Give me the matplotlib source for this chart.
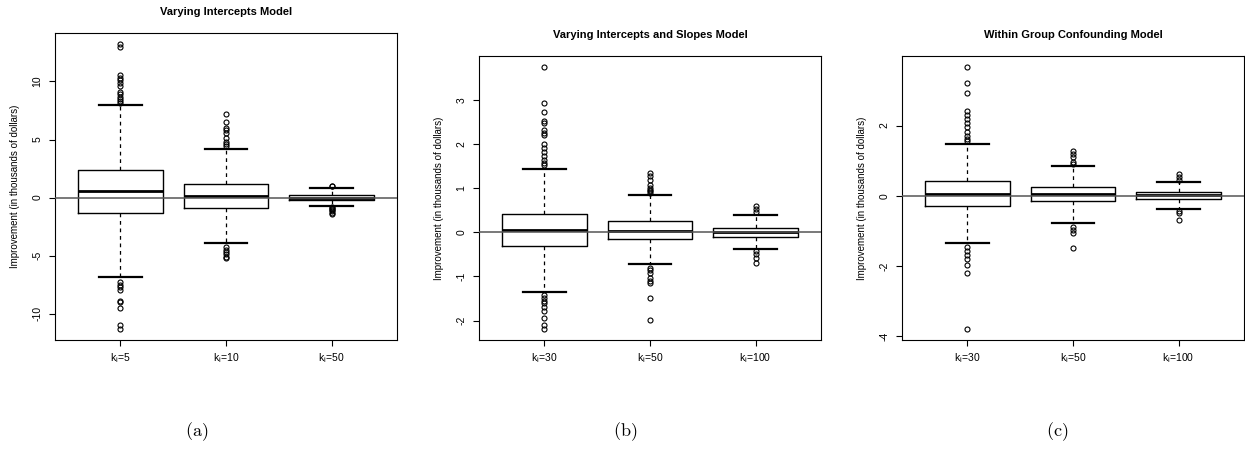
import matplotlib.pyplot as plt

plt.rcParams['font.family'] = ['Liberation Sans', 'DejaVu Sans']
plt.rcParams['mathtext.fontset'] = 'custom'
plt.rcParams['mathtext.rm'] = 'Liberation Sans'
plt.rcParams['mathtext.it'] = 'Liberation Sans:italic'

titles = ["Varying Intercepts Model",
          "Varying Intercepts and Slopes Model",
          "Within Group Confounding Model"]
captions = ["(a)", "(b)", "(c)"]
ylabel = "Improvement (in thousands of dollars)"

# (a) varying intercepts
a_labels = ["5", "10", "50"]
a_med = [0.54, 0.14, 0.0]
a_q1 = [-1.33, -0.86, -0.2]
a_q3 = [2.41, 1.2, 0.24]
a_whislo = [-6.84, -3.88, -0.72]
a_whishi = [8.0, 4.16, 0.84]
a_fliers = [
    [13.2, 13.0, 10.6, 10.3, 10.1, 9.9, 9.6, 9.1, 8.9, 8.7, 8.5, 8.3, 8.15,
     -7.3, -7.5, -7.7, -8.0, -8.9, -9.0, -9.5, -11.0, -11.3],
    [7.24, 6.5, 6.0, 5.8, 5.6, 5.1, 4.8, 4.6, 4.4,
     -4.3, -4.5, -4.7, -4.9, -5.1, -5.2],
    [0.95, 1.0, -0.8, -0.9, -1.0, -1.1, -1.2, -1.3, -1.45],
]
a_ticks = [-10, -5, 0, 5, 10]

# (b) varying intercepts and slopes
b_labels = ["30", "50", "100"]
b_med = [0.05, 0.03, 0.01]
b_q1 = [-0.30, -0.15, -0.10]
b_q3 = [0.41, 0.26, 0.10]
b_whislo = [-1.36, -0.72, -0.38]
b_whishi = [1.42, 0.84, 0.39]
b_fliers = [
    [3.75, 2.92, 2.71, 2.51, 2.48, 2.32, 2.25, 2.21, 2.0, 1.91, 1.81, 1.72, 1.63, 1.57, 1.53,
     -1.41, -1.48, -1.55, -1.6, -1.69, -1.79, -1.94, -2.09, -2.2],
    [1.34, 1.27, 1.19, 1.08, 1.0, 0.96, 0.93, 0.89,
     -0.81, -0.86, -0.92, -1.03, -1.1, -1.15, -1.48, -1.99],
    [0.59, 0.53, 0.45, -0.43, -0.5, -0.58, -0.69],
]
b_ticks = [-2, -1, 0, 1, 2, 3]

# (c) within group confounding
c_labels = ["30", "50", "100"]
c_med = [0.04, 0.04, 0.02]
c_q1 = [-0.30, -0.16, -0.10]
c_q3 = [0.41, 0.26, 0.10]
c_whislo = [-1.36, -0.78, -0.38]
c_whishi = [1.48, 0.86, 0.40]
c_fliers = [
    [3.68, 3.2, 2.92, 2.42, 2.3, 2.18, 2.06, 1.95, 1.82, 1.71, 1.61, 1.55,
     -1.45, -1.57, -1.69, -1.81, -1.98, -2.19, -3.81],
    [1.28, 1.19, 1.09, 0.97, 0.89, -0.88, -0.98, -1.07, -1.48],
    [0.62, 0.54, 0.45, -0.43, -0.5, -0.69],
]
c_ticks = [-4, -2, 0, 2]

panels = [
    (a_labels, a_med, a_q1, a_q3, a_whislo, a_whishi, a_fliers, a_ticks),
    (b_labels, b_med, b_q1, b_q3, b_whislo, b_whishi, b_fliers, b_ticks),
    (c_labels, c_med, c_q1, c_q3, c_whislo, c_whishi, c_fliers, c_ticks),
]

fig = plt.figure(figsize=(12.45, 4.5), dpi=100)
rects = [
    [55 / 1245, 1 - 340 / 450, 342 / 1245, 307 / 450],
    [479 / 1245, 1 - 340 / 450, 342 / 1245, 284 / 450],
    [902 / 1245, 1 - 340 / 450, 342 / 1245, 284 / 450],
]
cap_x = [197 / 1245, 625 / 1245, 1057 / 1245]

for i, (labels, med, q1, q3, lo, hi, fl, ticks) in enumerate(panels):
    ax = fig.add_axes(rects[i])
    stats = []
    for j in range(len(labels)):
        stats.append(dict(med=med[j], q1=q1[j], q3=q3[j], whislo=lo[j],
                          whishi=hi[j], fliers=fl[j]))
    ax.bxp(stats, positions=[1, 2, 3], widths=0.8, showfliers=True,
           boxprops=dict(color='black', lw=1.0),
           medianprops=dict(color='black', lw=2.0),
           whiskerprops=dict(color='black', lw=0.9, linestyle=(0, (3, 3))),
           capprops=dict(color='black', lw=1.6),
           capwidths=0.4,
           flierprops=dict(marker='o', markerfacecolor='none',
                           markeredgecolor='black', markersize=3.6,
                           markeredgewidth=0.8))
    ax.axhline(0, color='#555555', lw=1.1, zorder=3)

    allv = lo + hi + [v for f in fl for v in f]
    vmin, vmax = min(allv), max(allv)
    pad = 0.04 * (vmax - vmin)
    ax.set_ylim(vmin - pad, vmax + pad)
    ax.set_xlim(0.38, 3.62)

    ax.set_yticks(ticks)
    ax.set_yticklabels([str(t) for t in ticks], rotation=90, va='center')
    ax.set_xticks([1, 2, 3])
    ax.set_xticklabels([r'k$_\mathregular{i}$=' + l for l in labels])
    ax.tick_params(direction='out', length=4, width=0.8, labelsize=7.5,
                   pad=5, colors='black')
    ax.tick_params(axis='x', pad=4)
    for s in ax.spines.values():
        s.set_linewidth(0.8)
    ax.set_ylabel(ylabel, fontsize=7, labelpad=9)
    ax.set_title(titles[i], fontsize=8, fontweight='bold', pad=13)

    fig.text(cap_x[i], 1 - 432 / 450, r'$\mathrm{' + captions[i] + '}$',
             ha='center', va='center', fontsize=13, math_fontfamily='cm')

fig.savefig("out.png", dpi=100)
